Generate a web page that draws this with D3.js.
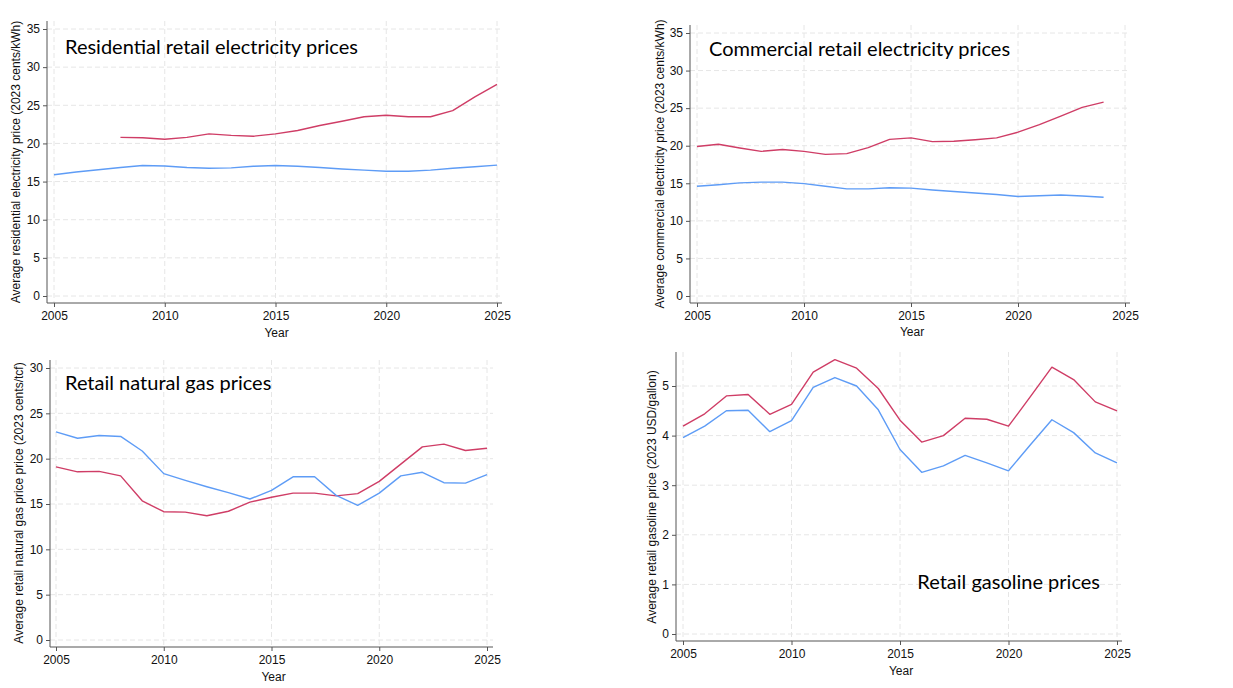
<!DOCTYPE html>
<html>
<head>
<meta charset="utf-8">
<script src="https://cdn.jsdelivr.net/npm/d3@7"></script>
<style>
  body { margin: 0; background: #fff; }
  svg { display: block; }
</style>
</head>
<body>
<svg id="chart" width="1233" height="688"></svg>
<script>
// ---- data -------------------------------------------------------------
const years = d3.range(2005, 2026);
const xTicks = [2005, 2010, 2015, 2020, 2025];

// residential electricity, 2023 cents/kWh (red series starts 2008)
const resRed = [null, null, null, 20.8, 20.75, 20.55, 20.8, 21.25, 21.05, 20.95, 21.25,
  21.7, 22.35, 22.9, 23.5, 23.7, 23.5, 23.5, 24.3, 26.1, 27.75];
const resBlue = [15.9, 16.25, 16.55, 16.85, 17.1, 17.05, 16.85, 16.75, 16.8, 17.0, 17.1,
  17.0, 16.85, 16.65, 16.5, 16.35, 16.35, 16.5, 16.75, 16.95, 17.15];

// commercial electricity, 2023 cents/kWh (ends 2024)
const comRed = [19.9, 20.2, 19.7, 19.25, 19.5, 19.25, 18.85, 18.95, 19.75, 20.85, 21.05,
  20.55, 20.6, 20.8, 21.05, 21.8, 22.8, 23.95, 25.1, 25.8, null];
const comBlue = [14.6, 14.8, 15.05, 15.15, 15.15, 14.95, 14.6, 14.25, 14.25, 14.4, 14.35,
  14.1, 13.9, 13.7, 13.5, 13.25, 13.35, 13.45, 13.3, 13.15, null];

// natural gas, 2023 cents/tcf
const gasRed = [19.1, 18.55, 18.6, 18.1, 15.35, 14.15, 14.1, 13.7, 14.2, 15.2, 15.75,
  16.2, 16.2, 15.9, 16.15, 17.5, 19.4, 21.3, 21.6, 20.9, 21.15];
const gasBlue = [22.95, 22.25, 22.55, 22.45, 20.85, 18.35, 17.6, 16.9, 16.25, 15.55, 16.5,
  18.0, 18.0, 15.95, 14.85, 16.2, 18.1, 18.5, 17.35, 17.3, 18.25];

// gasoline, 2023 USD/gallon
const petRed = [4.19, 4.44, 4.80, 4.83, 4.43, 4.63, 5.28, 5.53, 5.36, 4.95, 4.31,
  3.87, 4.00, 4.35, 4.33, 4.19, 4.78, 5.38, 5.13, 4.68, 4.50];
const petBlue = [3.96, 4.19, 4.50, 4.51, 4.08, 4.30, 4.97, 5.17, 5.00, 4.52, 3.72,
  3.26, 3.39, 3.60, 3.45, 3.29, 3.81, 4.32, 4.06, 3.65, 3.45];

const RED = "#cf3d66";
const BLUE = "#5e9cf6";

// ---- panels -----------------------------------------------------------
// frame: axis corner (left, bottom), right end, top end, pixel of first/last tick
const panels = [
  {
    title: "Residential retail electricity prices", titleX: 65, titleY: 54, titleAnchor: "start",
    ylabel: "Average residential electricity price (2023 cents/kWh)", ylabelX: 16, ylabelY: 162,
    yTicks: d3.range(0, 36, 5), yMax: 35,
    left: 47, right: 502, top: 21, bottom: 303,
    xPx: [54, 497], yPx: [296, 29], yearY: 337,
    series: [resRed, resBlue]
  },
  {
    title: "Commercial retail electricity prices", titleX: 709, titleY: 56, titleAnchor: "start",
    ylabel: "Average commercial electricity price (2023 cents/kWh)", ylabelX: 660, ylabelY: 164,
    yTicks: d3.range(0, 36, 5), yMax: 35,
    left: 690, right: 1130, top: 25, bottom: 303,
    xPx: [697, 1125], yPx: [296, 33], yearY: 336,
    series: [comRed, comBlue]
  },
  {
    title: "Retail natural gas prices", titleX: 65, titleY: 390, titleAnchor: "start",
    ylabel: "Average retail natural gas price price (2023 cents/tcf)", ylabelX: 19, ylabelY: 503,
    yTicks: d3.range(0, 31, 5), yMax: 30,
    left: 50, right: 493, top: 360, bottom: 647,
    xPx: [56, 487], yPx: [640, 368], yearY: 681,
    series: [gasRed, gasBlue]
  },
  {
    title: "Retail gasoline prices", titleX: 1100, titleY: 589, titleAnchor: "end",
    ylabel: "Average retail gasoline price (2023 USD/gallon)", ylabelX: 652, ylabelY: 497,
    yTicks: d3.range(0, 6, 1), yMax: 5,
    left: 676, right: 1122, top: 352, bottom: 641,
    xPx: [683, 1117], yPx: [634, 386], yearY: 675,
    series: [petRed, petBlue]
  }
];

const svg = d3.select("#chart");
const tickFont = "'Liberation Sans', Arial, sans-serif";

panels.forEach(p => {
  const g = svg.append("g");
  const x = d3.scaleLinear().domain([2005, 2025]).range(p.xPx);
  const y = d3.scaleLinear().domain([0, p.yMax]).range(p.yPx);

  // grid
  g.selectAll(".hg").data(p.yTicks).join("line")
    .attr("x1", p.left).attr("x2", p.right)
    .attr("y1", d => y(d)).attr("y2", d => y(d))
    .attr("stroke", "#e6e6e6").attr("stroke-width", 1)
    .attr("stroke-dasharray", "5,3");
  g.selectAll(".vg").data(xTicks).join("line")
    .attr("x1", d => x(d)).attr("x2", d => x(d))
    .attr("y1", p.top).attr("y2", p.bottom)
    .attr("stroke", "#e6e6e6").attr("stroke-width", 1)
    .attr("stroke-dasharray", "5,3");

  // axes
  const yAxis = d3.axisLeft(y).tickValues(p.yTicks).tickSize(4).tickPadding(3).tickFormat(d3.format("d"));
  const xAxis = d3.axisBottom(x).tickValues(xTicks).tickSize(4).tickPadding(4).tickFormat(d3.format("d"));

  const ya = g.append("g").attr("transform", `translate(${p.left},0)`).call(yAxis);
  ya.select(".domain").remove();
  ya.append("line").attr("x1", 0).attr("x2", 0).attr("y1", p.top).attr("y2", p.bottom)
    .attr("stroke", "#555");
  const xa = g.append("g").attr("transform", `translate(0,${p.bottom})`).call(xAxis);
  xa.select(".domain").remove();
  xa.append("line").attr("x1", p.left).attr("x2", p.right).attr("y1", 0).attr("y2", 0)
    .attr("stroke", "#555");

  [ya, xa].forEach(a => {
    a.selectAll(".tick line").attr("stroke", "#555");
    a.selectAll(".tick text").attr("fill", "#111")
      .style("font-family", tickFont).style("font-size", "12px");
  });

  // series
  const line = d3.line()
    .defined(d => d[1] != null)
    .x(d => x(d[0])).y(d => y(d[1]));
  [RED, BLUE].forEach((col, i) => {
    const pts = years.map((yr, k) => [yr, p.series[i][k]]);
    g.append("path").datum(pts)
      .attr("d", line)
      .attr("fill", "none")
      .attr("stroke", col)
      .attr("stroke-width", 1.4)
      .attr("stroke-linejoin", "round");
  });

  // labels
  g.append("text")
    .attr("x", (p.left + p.right) / 2 + 2).attr("y", p.yearY)
    .attr("text-anchor", "middle")
    .style("font-family", tickFont).style("font-size", "12px")
    .attr("fill", "#111")
    .text("Year");
  g.append("text")
    .attr("transform", `translate(${p.ylabelX},${p.ylabelY}) rotate(-90)`)
    .attr("text-anchor", "middle")
    .attr("dy", "0.35em")
    .style("font-family", tickFont).style("font-size", "12px")
    .attr("fill", "#111")
    .text(p.ylabel);
  g.append("text")
    .attr("x", p.titleX).attr("y", p.titleY)
    .attr("text-anchor", p.titleAnchor)
    .style("font-family", "Lato, 'Noto Sans', sans-serif").style("font-size", "20px")
    .attr("fill", "#000")
    .text(p.title);
});
</script>
</body>
</html>
